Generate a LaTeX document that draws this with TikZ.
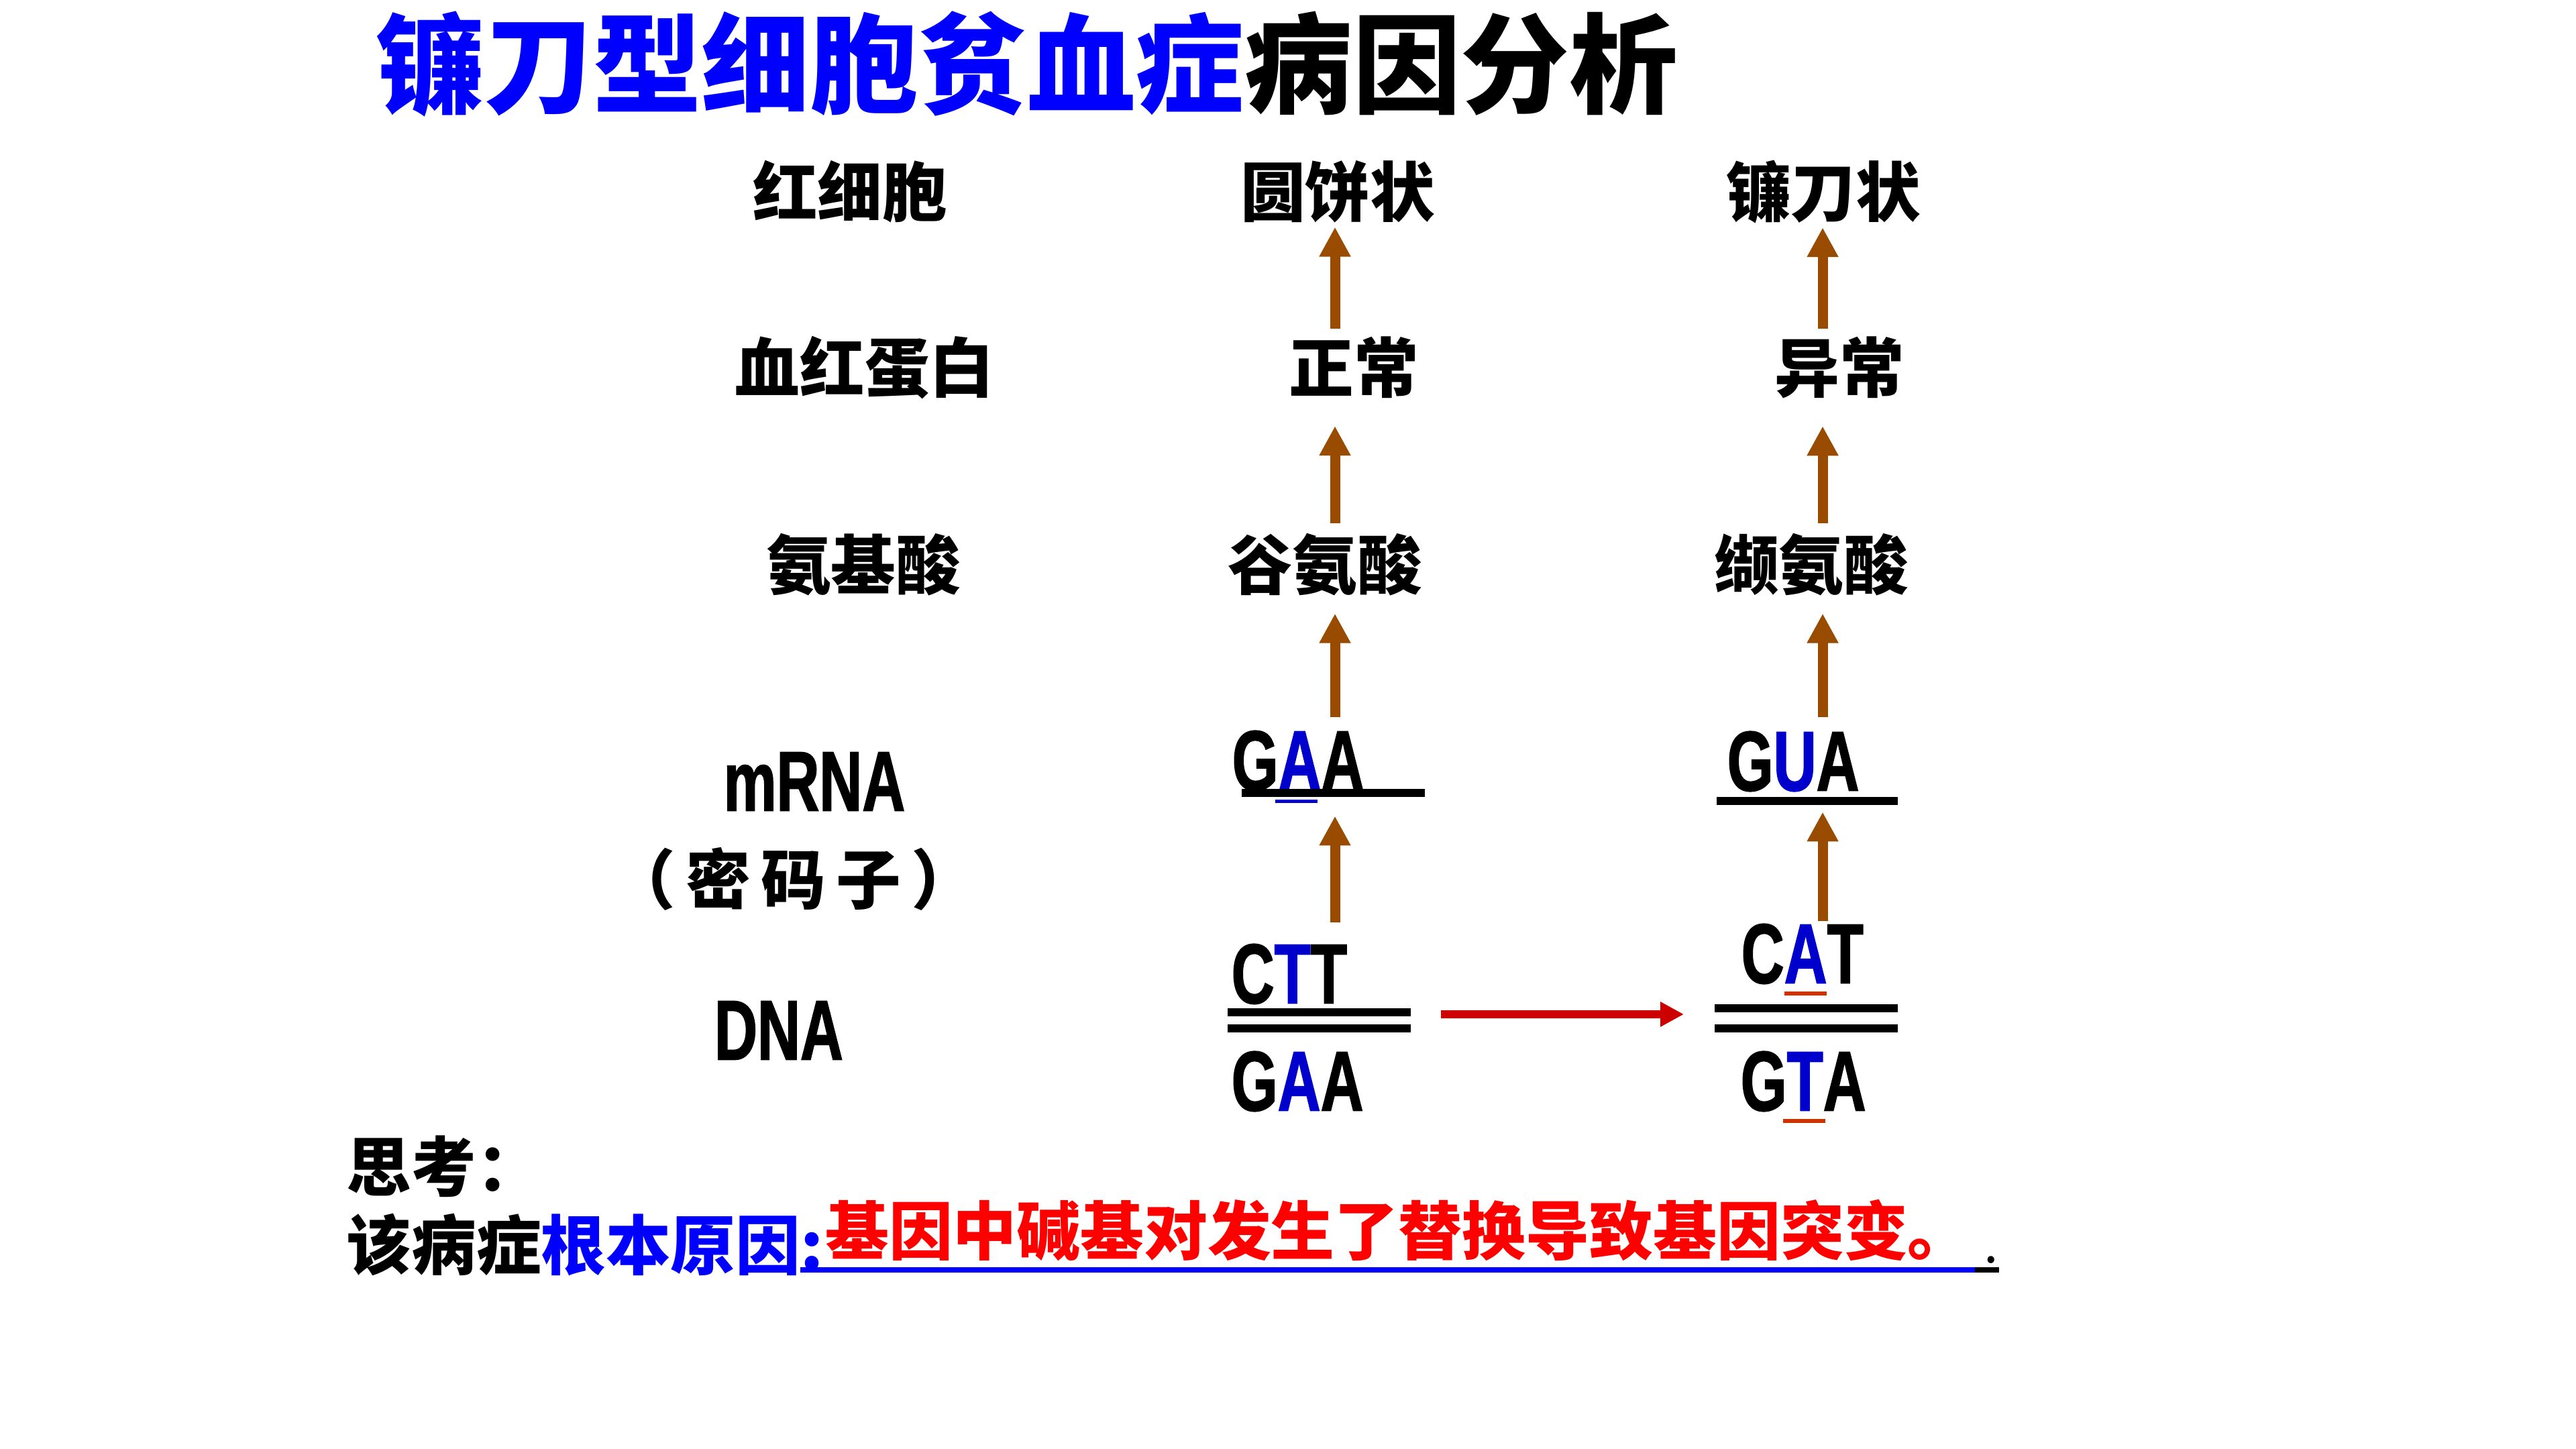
\documentclass[tikz,border=0pt]{standalone}
\usepackage{fontspec}
\usepackage{xcolor}
\usetikzlibrary{arrows.meta}
\newfontfamily\cjk{Noto Sans CJK SC}
\newfontfamily\narrow{Liberation Sans}[FakeStretch=0.7,BoldFeatures={FakeBold=1.3}]
\definecolor{tblue}{RGB}{0,0,255}
\definecolor{lblue}{RGB}{0,0,204}
\definecolor{arrowbrown}{RGB}{153,76,0}
\definecolor{darkred}{RGB}{204,0,0}
\definecolor{oline}{RGB}{204,51,0}
\newcommand{\bs}[1]{\textcolor{lblue}{#1}}
\newcommand{\gap}{\hspace{0.16em}}

\begin{document}
\begin{tikzpicture}[every node/.style={inner sep=0pt},
	lab/.style={font=\cjk\bfseries\fontsize{27.5}{30}\selectfont},
	seq/.style={font=\narrow\bfseries\fontsize{36}{40}\selectfont,anchor=west},
	strand/.style={line width=0.12cm},
	up/.style={draw=arrowbrown,line width=0.15cm,-{Triangle[length=0.44cm,width=0.44cm]}}]
	\useasboundingbox (0,0) rectangle (38.4,21.6);
	
	\node[font=\cjk\bfseries\fontsize{46}{50}\selectfont] (title) at (15.31,20.645){\textcolor{tblue}{镰刀型细胞贫血症}病因分析};
	
	\node[lab] (rbc) at (12.67,18.74){红细胞};
	\node[lab] (hb) at (12.89,16.12){血红蛋白};
	\node[lab] (aa) at (12.87,13.18){氨基酸};
	\node[seq,anchor=center] (mrna) at (12.14,9.95){mRNA};
	\node[lab] (codon) at (11.83,8.50){（\gap 密\gap 码\gap 子\gap ）};
	\node[seq,anchor=center] (dna) at (11.61,6.24){DNA};
	
	\node[lab] (shapeN) at (19.94,18.74){圆饼状};
	\node[lab] (hbN) at (20.18,16.12){正常};
	\node[lab] (aaN) at (19.75,13.18){谷氨酸};
	\node[seq] (mrnaN) at (18.36,10.26){G\bs{A}A};
	\node[seq] (dnaNt) at (18.35,7.08){C\bs{T}T};
	\node[seq] (dnaNb) at (18.35,5.48){G\bs{A}A};
	
	\node[lab] (shapeS) at (27.18,18.74){镰刀状};
	\node[lab] (hbS) at (27.42,16.12){异常};
	\node[lab] (aaS) at (27.00,13.18){缬氨酸};
	\node[seq] (mrnaS) at (25.74,10.25){G\bs{U}A};
	\node[seq] (dnaSt) at (25.95,7.38){C\bs{A}T};
	\node[seq] (dnaSb) at (25.94,5.48){G\bs{T}A};
	
	\coordinate (cN) at (19.90,0);
	\coordinate (cS) at (27.17,0);
	
	%strands
	\draw[strand] (18.51,9.78) -- (21.24,9.78);
	\draw[lblue,line width=0.05cm] (19.01,9.655) -- (19.64,9.655);
	\draw[strand] (25.59,9.66) -- (28.29,9.66);
	\draw[strand] (18.30,6.51) -- (21.03,6.51);
	\draw[strand] (18.30,6.27) -- (21.03,6.27);
	\draw[strand] (25.56,6.57) -- (28.29,6.57);
	\draw[strand] (25.56,6.27) -- (28.29,6.27);
	\draw[oline,line width=0.06cm] (26.60,6.79) -- (27.23,6.79);
	\draw[oline,line width=0.06cm] (26.58,4.89) -- (27.21,4.89);
	
	\begin{scope}[up]
	%arrows
	\draw[shorten <=0.115cm,shorten >=0.055cm] (hbN.north -| cN) -- (shapeN.south -| cN);
	\draw[shorten <=0.145cm,shorten >=0.405cm] (aaN.north -| cN) -- (hbN.south -| cN);
	\draw[shorten <=0.19cm,shorten >=0.255cm] (mrnaN.north -| cN) -- (aaN.south -| cN);
	\draw[shorten <=0.31cm,shorten >=0.37cm] (dnaNt.north -| cN) -- (mrnaN.south -| cN);
	\draw[shorten <=0.115cm,shorten >=0.055cm] (hbS.north -| cS) -- (shapeS.south -| cS);
	\draw[shorten <=0.145cm,shorten >=0.405cm] (aaS.north -| cS) -- (hbS.south -| cS);
	\draw[shorten <=0.2cm,shorten >=0.255cm] (mrnaS.north -| cS) -- (aaS.south -| cS);
	\draw[shorten <=0.03cm,shorten >=0.30cm] (dnaSt.north -| cS) -- (mrnaS.south -| cS);
	\end{scope}
	
	\coordinate (nEnd) at (21.03,6.48);
	\coordinate (sBeg) at (25.56,6.48);
	\draw[darkred,line width=0.12cm,-{Triangle[length=0.35cm,width=0.35cm]},shorten <=0.45cm,shorten >=0.46cm] (nEnd) -- (sBeg);
	
	\node[lab,anchor=west] (think) at (5.16,4.21){思考：};
	\node[lab,anchor=west] (cause) at (5.16,3.04){该病症\textcolor{tblue}{根本原因:}};
	\node[lab,anchor=west,text=red,font=\cjk\bfseries\fontsize{27}{30}\selectfont] (answer) at (12.30,3.26){基因中碱基对发生了替换导致基因突变。};
	\draw[tblue,line width=0.08cm] (11.93,2.67) -- (29.44,2.67);
	\draw[line width=0.08cm] (29.44,2.67) -- (29.80,2.67);
	\node[font=\cjk\fontsize{22}{24}\selectfont] (dot) at (29.68,2.82){.};
\end{tikzpicture}
\end{document}
